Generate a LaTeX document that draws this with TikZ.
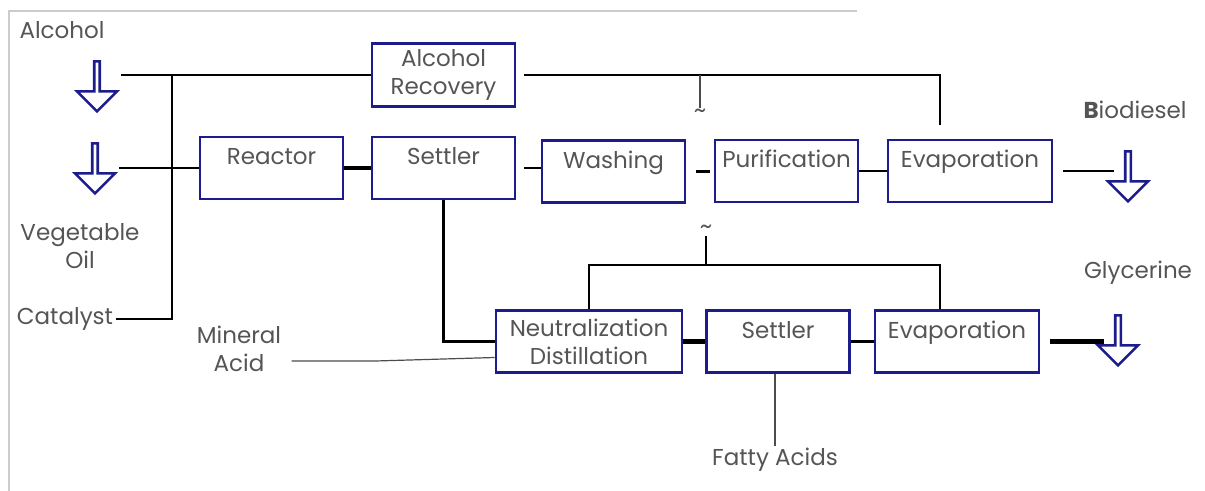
\documentclass[tikz,border=0pt]{standalone}
\usepackage{fontspec}
\setmainfont{Poppins}
\usetikzlibrary{shapes.arrows,calc}
\definecolor{unitblue}{RGB}{28,28,140}
\definecolor{txtgray}{RGB}{85,85,85}
\tikzset{>=latex}
\tikzstyle{unit}=[draw=unitblue,line width=1.3pt,rectangle,align=center,text=txtgray,
                  minimum width=71.5pt,minimum height=31pt,inner sep=3pt]
\tikzstyle{oneline}=[text height=11pt,text depth=14pt]
\tikzstyle{wide}=[minimum width=82pt]
\tikzstyle{feed}=[single arrow,shape border rotate=270,draw=unitblue,line width=1.3pt,fill=white,
                  inner sep=0pt,minimum height=25pt,minimum width=20pt,single arrow head extend=4pt]
\tikzstyle{lbl}=[text=txtgray,align=center,inner sep=1pt]
\tikzstyle{pipe}=[line width=1.2pt]
\tikzstyle{heavy}=[line width=2.2pt]
\tikzstyle{slim}=[line width=0.6pt,black!70]

\begin{document}
\begin{tikzpicture}[x=0.5pt,y=-0.5pt,font=\fontsize{11.5}{14}\selectfont]
  \useasboundingbox (0,0) rectangle (1205,491);
  \draw[black!20,line width=0.8pt] (9,491) |- (857,11); % frame

  % process units
  \node[unit] (recov) at (443.5,75) {Alcohol\\Recovery};
  \node[unit,oneline] (reactor) at (271.5,168) {Reactor};
  \node[unit,oneline] (settler) at (443.5,168) {Settler};
  \node[unit,oneline] (wash) at (613.5,171.5) {Washing};
  \node[unit,oneline] (purif) at (786.5,171) {Purification};
  \node[unit,oneline,wide] (evapA) at (970,171) {Evaporation};
  \node[unit,minimum width=93pt] (neutral) at (589,341.5) {Neutralization\\Distillation};
  \node[unit,oneline] (settlerB) at (778,341.5) {Settler};
  \node[unit,oneline,wide] (evapB) at (957,341.5) {Evaporation};

  % feeds and products
  \node[feed] (inAlc) at (97,85) {};
  \node[feed] (inOil) at (95,167) {};
  \node[feed] (outBio) at (1128,175) {};
  \node[feed] (outGly) at (1118,339) {};

  \node[lbl] (alc) at (62,30) {Alcohol};
  \node[lbl] (oil) at (80,246) {Vegetable\\Oil};
  \node[lbl] (cat) at (65,319) {Catalyst};
  \node[lbl] (acid) at (239,349) {Mineral\\Acid};
  \node[lbl] (bio) at (1135,110) {\textbf{B}iodiesel};
  \node[lbl] (gly) at (1138,273) {Glycerine};
  \node[lbl] (fatty) at (775,460) {Fatty Acids};

  \coordinate (bus) at (172,0);
  \coordinate (busB) at (706,265);
  \coordinate (gapA) at ($(wash.east)!.5!(purif.west)$);

  % feed lines
  \draw[pipe] ([xshift=10pt]inAlc.east |- recov.west) -- (recov.west);
  \draw[pipe] ([xshift=10pt]inOil.east |- reactor.west) -- (reactor.west);
  \draw[pipe] (cat.east) -| (bus |- recov.west);

  % biodiesel line
  \draw[heavy] (reactor.east) -- (settler.west);
  \draw[pipe,shorten <=4pt] (settler.east) -- (settler.east -| wash.west);
  \draw[pipe,shorten <=5pt,shorten >=2pt] (wash.east) -- (wash.east -| purif.west);
  \draw[pipe] (purif.east) -- (purif.east -| evapA.west);
  \draw[pipe,shorten <=5pt,shorten >=5pt] (evapA.east) -- (evapA.east -| outBio.west);

  % alcohol recycle
  \draw[pipe,shorten <=4pt,shorten >=7pt] (recov.east) -| ([xshift=-15pt]evapA.north);
  \draw[slim] (gapA |- recov.east) -- ++(0,33) node[below,inner sep=0pt,text=txtgray] {\large\textasciitilde};

  % glycerine line
  \draw[pipe] (settler.south) |- (neutral.west);
  \draw[slim] ([xshift=4pt,yshift=-6pt]acid.east) -- ++(84,0) -- ([yshift=-8pt]neutral.west);
  \draw[heavy] (neutral.east) -- (settlerB.west);
  \draw[pipe] (settlerB.east) -- (evapB.west);
  \draw[heavy,shorten <=5pt,shorten >=5pt] (evapB.east) -- (evapB.east -| outGly.west);
  \draw[pipe] (neutral.north) |- (busB) -| ([xshift=-8.5pt]evapB.north);
  \draw[pipe] (busB) -- ++(0,-29) node[above,inner sep=0pt,text=txtgray] {\large\textasciitilde};
  \draw[slim] (fatty.north) -- (fatty.north |- settlerB.south);

\end{tikzpicture}
\end{document}
